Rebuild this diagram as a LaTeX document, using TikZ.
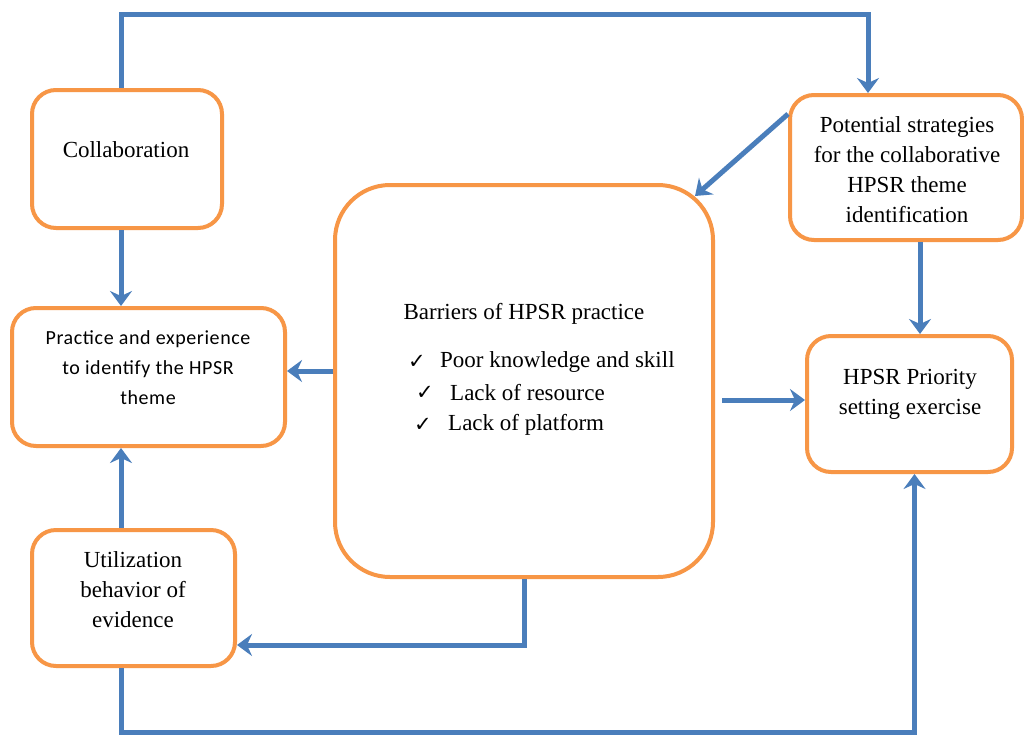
\documentclass[tikz,border=0pt]{standalone}
\usepackage{fontspec}
\setmainfont{Liberation Serif}
\newfontfamily\calfont[LetterSpace=3]{Carlito}
\newfontfamily\symfont{DejaVu Sans}
\usetikzlibrary{arrows.meta,calc}
\definecolor{boxorange}{HTML}{F79646}
\definecolor{lineblue}{HTML}{4A7EBB}
\begin{document}
\begin{tikzpicture}[x=1pt,y=-1pt,
  box/.style={draw=boxorange, line width=4pt, rounded corners=24pt, inner sep=0pt},
  bigbox/.style={box, rounded corners=55pt},
  conn/.style={draw=lineblue, line width=5pt, -{Stealth[length=15pt,width=22pt,inset=5pt]}},
  lbl/.style={font=\fontsize{23}{30}\selectfont, align=center, inner sep=0pt},
  slbl/.style={font=\calfont\fontsize{20}{30}\selectfont, align=center, inner sep=0pt},
  chk/.style={font=\symfont\fontsize{21}{24}\selectfont, inner sep=0pt}]
\useasboundingbox (0,0) rectangle (1024,736);
\fill[white] (0,0) rectangle (1024,736);
% boxes
\node[box, minimum width=190pt, minimum height=138pt] (collab) at (127,159) {};
\node[box, minimum width=273pt, minimum height=138pt] (practice) at (148.5,377) {};
\node[box, minimum width=203pt, minimum height=136pt] (util) at (133.5,598) {};
\node[bigbox, minimum width=378pt, minimum height=392pt] (barriers) at (524,381) {};
\node[box, minimum width=232pt, minimum height=145pt] (potential) at (906,167.5) {};
\node[box, minimum width=205pt, minimum height=136pt] (priority) at (909.5,404) {};
% texts
\node[lbl] (tcollab) at (126,150) {Collaboration};
\node[slbl] (tpractice) at (148,368) {Practice and experience\\to identify the HPSR\\theme};
\node[lbl] (tutil) at (133,590) {Utilization\\behavior of\\evidence};
\node[lbl] (tbarriers) at (524,314) {Barriers of HPSR practice};
\node[chk] (c1) at (417,362) {✓};
\node[chk] (c2) at (425,393) {✓};
\node[chk] (c3) at (423,425) {✓};
\node[lbl, anchor=west] (b1) at (440,362) {Poor knowledge and skill};
\node[lbl, anchor=west] (b2) at (450,393) {Lack of resource};
\node[lbl, anchor=west] (b3) at (448,425) {Lack of platform};
\node[lbl] (tpotential) at (907,170) {Potential strategies\\for the collaborative\\HPSR theme\\identification};
\node[lbl] (tpriority) at (910,394) {HPSR Priority\\setting exercise};
% connector coordinates
\coordinate (cx) at (121,0);
\coordinate (topy) at (0,14);
\coordinate (boty) at (0,732);
% connectors
\draw[conn] (collab.north -| cx) -- (cx |- topy) -| ($(potential.north west)+(80,0)$);
\draw[conn] (collab.south -| cx) -- (practice.north -| cx);
\draw[conn] (util.north -| cx) -- (practice.south -| cx);
\draw[conn] ($(barriers.west)+(0,-10)$) -- ($(practice.east)+(0,-6)$);
\draw[conn] (barriers.south) |- ($(util.east)+(0,47)$);
\draw[conn, shorten <=7pt] ($(barriers.east)+(0,19)$) -- ($(priority.west)+(0,-4)$);
\draw[conn] ($(potential.north west)+(0,21)$) -- ($(barriers.north east)+(-20,13)$);
\draw[conn] ($(potential.south)+(14,0)$) -- ($(priority.north)+(10.5,0)$);
\draw[conn] (util.south -| cx) -- (cx |- boty) -| ($(priority.south)+(5,0)$);
\end{tikzpicture}
\end{document}
